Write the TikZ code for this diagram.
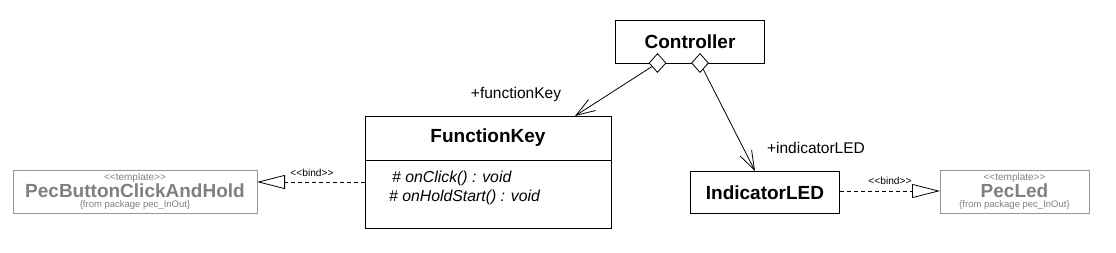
\documentclass[tikz,border=0pt]{standalone}
\usepackage{fontspec}
\setmainfont{Liberation Sans}
\usetikzlibrary{arrows.meta,shapes.geometric}
\definecolor{tgray}{RGB}{128,128,128}
\definecolor{bgray}{RGB}{150,150,150}
\newcommand{\lt}{<\kern0pt<}
\newcommand{\gt}{>\kern0pt>}
\begin{document}
\begin{tikzpicture}[x=1pt,y=-1pt,
  clsbox/.style={draw=black, line width=1pt, rectangle, inner sep=0pt, anchor=north west},
  tplbox/.style={draw=bgray, line width=1pt, rectangle, inner sep=0pt, anchor=north west},
  bigname/.style={font=\fontsize{19}{22}\selectfont\bfseries, inner sep=0pt},
  grayname/.style={font=\fontsize{19}{22}\selectfont\bfseries, text=tgray, inner sep=0pt},
  tplsmall/.style={font=\fontsize{10}{12}\selectfont, text=tgray, inner sep=0pt},
  pkgsmall/.style={font=\fontsize{9.5}{11}\selectfont, text=tgray, inner sep=0pt},
  method/.style={font=\fontsize{15.8}{18}\selectfont\itshape, inner sep=0pt, anchor=west},
  rolelbl/.style={font=\fontsize{15.5}{18}\selectfont, inner sep=0pt},
  bindlbl/.style={font=\fontsize{10.2}{12}\selectfont, inner sep=0pt},
  agg/.style={diamond, draw=black, line width=0.8pt, fill=white, inner sep=0pt, minimum width=17pt, minimum height=19pt},
  assoc/.style={line width=0.8pt, -{Straight Barb[length=19pt,width=13pt,line width=0.8pt]}},
  realize/.style={line width=0.8pt, dash pattern=on 4pt off 3pt, -{Triangle[open,length=28pt,width=14pt,line width=0.8pt]}}
]
\useasboundingbox (0,0) rectangle (1116,253);

% Controller
\node[clsbox, minimum width=149pt, minimum height=43pt] (ctrl) at (615,20) {};
\node[bigname] (ctrlt) at (ctrl.center) {Controller};

% FunctionKey
\node[clsbox, minimum width=246pt, minimum height=112pt] (fk) at (365,116) {};
\node[bigname] (fkt) at (488,138) {FunctionKey};
\draw[line width=1pt] (fk.west |- 0,161) -- (fk.east |- 0,161);
\node[method] (m1) at (392,178) {\# onClick() : void};
\node[method] (m2) at (389,197) {\# onHoldStart() : void};

% IndicatorLED
\node[clsbox, minimum width=149pt, minimum height=42pt] (led) at (690,171) {};
\node[bigname] (ledt) at (led.center) {IndicatorLED};

% PecButtonClickAndHold
\node[tplbox, minimum width=244pt, minimum height=43pt] (pbc) at (13,170) {};
\node[tplsmall] (pbc1) at (135,177.5) {\lt template\gt};
\node[grayname] (pbc2) at (135,191) {PecButtonClickAndHold};
\node[pkgsmall] (pbc3) at (135,205) {\{from package pec\_InOut\}};

% PecLed
\node[tplbox, minimum width=149pt, minimum height=43pt] (pl) at (940,170) {};
\node[tplsmall] (pl1) at (1014.5,177.5) {\lt template\gt};
\node[grayname] (pl2) at (1014.5,191) {PecLed};
\node[pkgsmall] (pl3) at (1014.5,205) {\{from package pec\_InOut\}};

% aggregation diamonds
\node[agg] (dL) at (657.5,63) {};
\node[agg] (dR) at (700,63) {};

\coordinate (fkin) at (575,116);
\coordinate (ledin) at (755,171);
\draw[assoc] (dL) -- (fkin);
\draw[assoc] (dR) -- (ledin);
\node[rolelbl] (r1) at (516,94) {+functionKey};
\node[rolelbl] (r2) at (816,148) {+indicatorLED};

% bind realizations
\coordinate (b1) at (257,182);
\draw[realize] (fk.west |- b1) -- (b1);
\node[bindlbl] (bl1) at (312,173) {\lt bind\gt};
\draw[realize] (led.east |- 0,191) -- (pl.west |- 0,191);
\node[bindlbl] (bl2) at (890,181) {\lt bind\gt};
\end{tikzpicture}
\end{document}
